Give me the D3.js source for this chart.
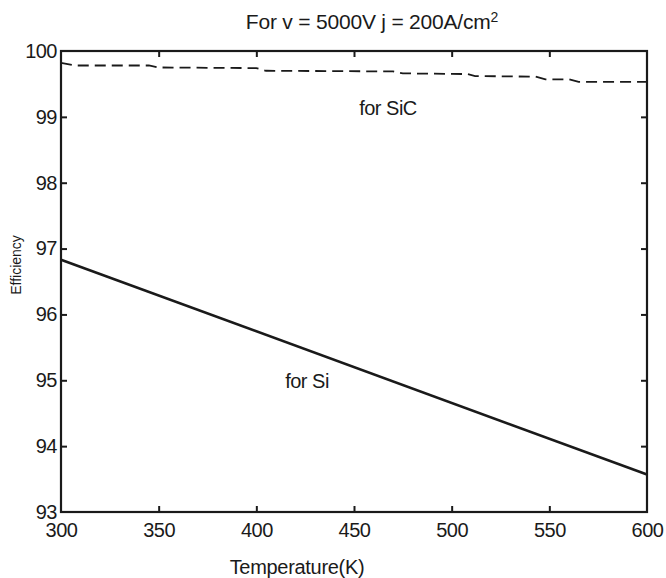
<!DOCTYPE html>
<html>
<head>
<meta charset="utf-8">
<script src="https://cdn.jsdelivr.net/npm/d3@7"></script>
<style>
  html, body { margin: 0; padding: 0; background: #fff; }
  svg { display: block; font-family: "Liberation Sans", Arial, sans-serif; }
</style>
</head>
<body>
<svg id="chart" width="666" height="578"></svg>
<script>
// Temperature (K) and efficiency (%) for the two devices
const temperatures = [300, 600];
const siEfficiency = [96.83, 93.57];

const sicTemperatures = [300, 307, 345, 350, 400, 405, 470, 475, 508, 512, 543, 548, 560, 565, 600];
const sicEfficiency   = [99.82, 99.78, 99.78, 99.75, 99.74, 99.70, 99.69, 99.66, 99.65, 99.62, 99.61, 99.57, 99.57, 99.53, 99.53];

const xTicks = [300, 350, 400, 450, 500, 550, 600];
const yTicks = [93, 94, 95, 96, 97, 98, 99, 100];

const svg = d3.select("#chart");
const margin = { left: 61, right: 19, top: 51, bottom: 66 };
const W = 666, H = 578;
const ink = "#1a1a1a";
const fontSize = "20px";

const x = d3.scaleLinear().domain([300, 600]).range([margin.left, W - margin.right]);
const y = d3.scaleLinear().domain([93, 100]).range([H - margin.bottom, margin.top]);

const tickLen = 6;

// Bottom axis with inward ticks
const axisB = svg.append("g")
  .attr("transform", `translate(0,${y(93)})`)
  .call(d3.axisBottom(x).tickValues(xTicks).tickSize(-tickLen).tickPadding(11).tickFormat(d3.format("d")));
// Top axis: ticks only
const axisT = svg.append("g")
  .attr("transform", `translate(0,${y(100)})`)
  .call(d3.axisTop(x).tickValues(xTicks).tickSize(-tickLen).tickFormat(""));
// Left axis with inward ticks
const axisL = svg.append("g")
  .attr("transform", `translate(${x(300)},0)`)
  .call(d3.axisLeft(y).tickValues(yTicks).tickSize(-tickLen).tickPadding(4).tickFormat(d3.format("d")));
// Right axis: ticks only
const axisR = svg.append("g")
  .attr("transform", `translate(${x(600)},0)`)
  .call(d3.axisRight(y).tickValues(yTicks).tickSize(-tickLen).tickFormat(""));

[axisB, axisT, axisL, axisR].forEach(g => {
  g.select(".domain").remove();
  g.selectAll(".tick line").attr("stroke", ink).attr("stroke-width", 2);
  g.selectAll(".tick text")
    .attr("fill", ink)
    .style("font-size", fontSize)
    .style("letter-spacing", "-0.5px");
});
// the end ticks coincide with the frame
[axisB, axisT].forEach(g => g.selectAll(".tick line").filter(d => d === 300 || d === 600).remove());
[axisL, axisR].forEach(g => g.selectAll(".tick line").filter(d => d === 93 || d === 100).remove());

// Frame
svg.append("rect")
  .attr("x", x(300)).attr("y", y(100))
  .attr("width", x(600) - x(300)).attr("height", y(93) - y(100))
  .attr("fill", "none").attr("stroke", ink).attr("stroke-width", 2.2);

// Si curve
const siLine = d3.line().x((d, i) => x(temperatures[i])).y(d => y(d));
svg.append("path")
  .datum(siEfficiency)
  .attr("d", siLine)
  .attr("fill", "none").attr("stroke", ink).attr("stroke-width", 2.6);

// SiC curve (dashed)
const sicLine = d3.line().x((d, i) => x(sicTemperatures[i])).y(d => y(d));
svg.append("path")
  .datum(sicEfficiency)
  .attr("d", sicLine)
  .attr("fill", "none").attr("stroke", ink).attr("stroke-width", 1.8)
  .attr("stroke-dasharray", "11,6");

// Curve labels
svg.append("text").attr("x", 388).attr("y", 115)
  .attr("text-anchor", "middle").style("font-size", fontSize).attr("fill", ink)
  .style("letter-spacing", "-0.5px")
  .text("for SiC");
svg.append("text").attr("x", 307).attr("y", 388)
  .attr("text-anchor", "middle").style("font-size", fontSize).attr("fill", ink)
  .style("letter-spacing", "-0.5px")
  .text("for Si");

// Title
const title = svg.append("text").attr("x", 372).attr("y", 29)
  .attr("text-anchor", "middle").style("font-size", "21px").attr("fill", ink)
  .style("letter-spacing", "-0.2px");
title.append("tspan").text("For v = 5000V j = 200A/cm");
title.append("tspan").attr("dy", -7).style("font-size", "14px").text("2");

// Axis titles
svg.append("text").attr("x", 297).attr("y", 574)
  .attr("text-anchor", "middle").style("font-size", fontSize).attr("fill", ink)
  .style("letter-spacing", "-0.3px")
  .text("Temperature(K)");
svg.append("text")
  .attr("transform", "translate(21,265) rotate(-90)")
  .attr("text-anchor", "middle").style("font-size", "14px").attr("fill", ink)
  .text("Efficiency");
</script>
</body>
</html>
